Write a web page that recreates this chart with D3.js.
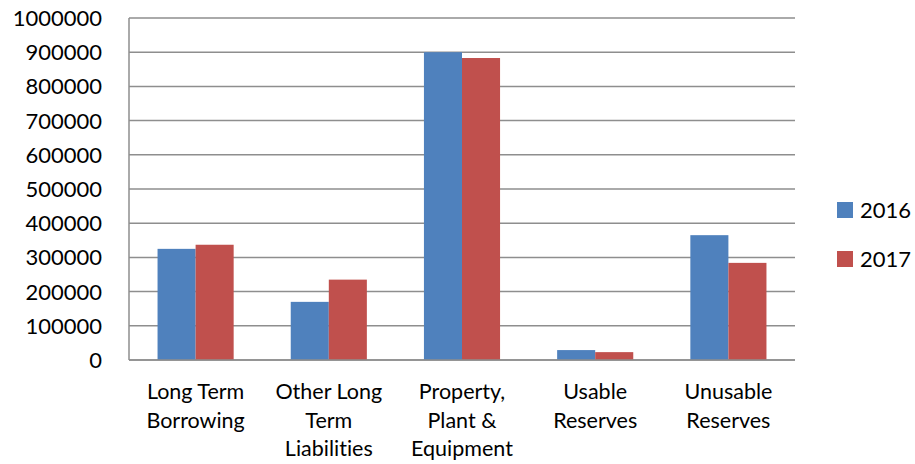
<!DOCTYPE html>
<html><head><meta charset="utf-8">
<script src="https://cdn.jsdelivr.net/npm/d3@7"></script>
<style>body{margin:0;background:#fff} text{font-variant-ligatures:none;font-feature-settings:"liga" 0}</style>
</head><body>
<svg id="c" width="915" height="464"></svg>
<script>
const categories = [["Long Term","Borrowing"],["Other Long","Term","Liabilities"],["Property,","Plant &","Equipment"],["Usable","Reserves"],["Unusable","Reserves"]];
const seriesNames = ["2016","2017"];
const values2016 = [325000, 170000, 900000, 29000, 365000];
const values2017 = [337000, 235000, 883000, 23000, 284000];
const yTicks = [0,100000,200000,300000,400000,500000,600000,700000,800000,900000,1000000];
const colors = ["#4F81BD","#C0504D"];

const svg = d3.select("#c");
const L=129, R=795, T=18, B=360;
const font = "Lato, 'Open Sans', sans-serif";
const x = d3.scaleBand().domain(d3.range(categories.length)).range([L,R]).paddingInner(0).paddingOuter(0);
const y = d3.scaleLinear().domain([0,1000000]).range([B,T]);
const bw = x.bandwidth()/(2+1.5);
const series=[values2016, values2017];

// gridlines
svg.append("g").selectAll("line").data(yTicks).join("line")
  .attr("x1",L).attr("x2",R).attr("y1",d=>y(d)).attr("y2",d=>y(d))
  .attr("stroke","#8e8e8e").attr("stroke-width",1.5);

// bars
series.forEach((vals,si)=>{
  svg.append("g").selectAll("rect").data(vals).join("rect")
    .attr("x",(d,i)=>x(i)+x.bandwidth()/2 - bw + si*bw)
    .attr("width",bw)
    .attr("y",d=>y(d)).attr("height",d=>y(0)-y(d))
    .attr("fill",colors[si]);
});

// axes lines
svg.append("line").attr("x1",L).attr("x2",L).attr("y1",T).attr("y2",B).attr("stroke","#8e8e8e").attr("stroke-width",1.5);
svg.append("line").attr("x1",L).attr("x2",R).attr("y1",B).attr("y2",B).attr("stroke","#8e8e8e").attr("stroke-width",1.5);

// y tick labels
svg.append("g").selectAll("text").data(yTicks).join("text")
  .attr("x",102).attr("y",d=>y(d)).attr("dy","0.36em")
  .attr("text-anchor","end").attr("font-family",font).attr("font-size",22).attr("fill","#000")
  .text(d=>d);

// category labels
const cl = svg.append("g").selectAll("text").data(categories).join("text")
  .attr("text-anchor","middle").attr("font-family",font).attr("font-size",21.5).attr("fill","#000");
cl.selectAll("tspan").data((d,i)=>d.map(s=>({s,i}))).join("tspan")
  .attr("x",d=>x(d.i)+x.bandwidth()/2)
  .attr("y",(d,j)=>399+j*28.5)
  .text(d=>d.s);

// legend
const lg = svg.append("g").selectAll("g").data(seriesNames).join("g")
  .attr("transform",(d,i)=>`translate(837,${210+i*49})`);
lg.append("rect").attr("x",0).attr("y",-8).attr("width",16).attr("height",16).attr("fill",(d,i)=>colors[i]);
lg.append("text").attr("x",23).attr("y",0).attr("dy","0.36em").attr("font-family",font).attr("font-size",22).text(d=>d);
</script>
</body></html>
